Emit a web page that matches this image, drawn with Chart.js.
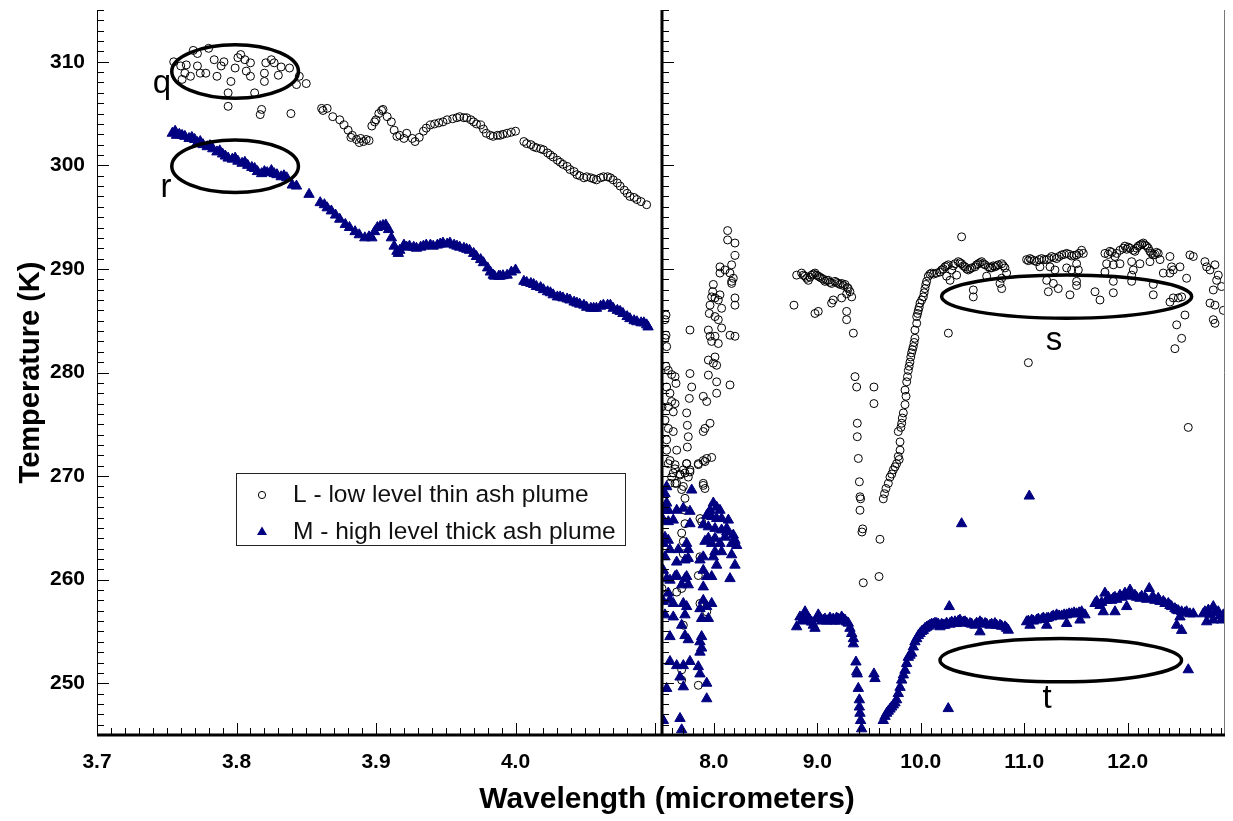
<!DOCTYPE html>
<html>
<head>
<meta charset="utf-8">
<script src="https://cdn.jsdelivr.net/npm/chart.js@4.4.1/dist/chart.umd.min.js"></script>
<style>
  html, body { margin: 0; padding: 0; background: #fff; }
</style>
</head>
<body>
<canvas id="ashChart" width="1233" height="821"></canvas>
<script>
// wavelength tick labels for the two halves of the broken axis
const leftTicks = [3.7, 3.8, 3.9, 4.0];
const rightTicks = [8.0, 9.0, 10.0, 11.0, 12.0];
const tempTicks = [250, 260, 270, 280, 290, 300, 310];
const seriesNames = ['L - low level thin ash plume', 'M - high level thick ash plume'];

// L - low level thin ash plume, 3.7-4.1 um  [wavelength, K]
const thinLeft = [
  [3.755,310.0],[3.760,309.6],[3.764,309.7],[3.763,308.9],[3.767,308.6],[3.761,308.3],[3.769,311.1],[3.772,310.8],
  [3.772,309.6],[3.774,308.9],[3.778,308.9],[3.780,311.3],[3.784,310.2],[3.786,308.6],[3.789,309.6],[3.791,310.0],
  [3.794,307.0],[3.794,305.7],[3.796,308.1],[3.799,309.4],[3.801,310.4],[3.803,310.7],[3.806,310.2],[3.807,309.1],
  [3.810,309.9],[3.810,308.6],[3.813,307.0],[3.817,304.9],[3.818,305.4],[3.820,308.9],[3.820,308.1],[3.821,309.9],
  [3.825,310.2],[3.827,309.9],[3.830,308.7],[3.832,309.5],[3.838,309.4],[3.839,305.0],[3.843,307.8],[3.845,308.6],
  [3.850,307.9],[3.861,305.5],[3.862,305.3],[3.865,305.5],[3.869,304.7],[3.874,304.4],[3.877,303.9],[3.880,303.4],
  [3.882,302.7],[3.883,302.9],[3.886,302.5],[3.888,302.2],[3.889,302.6],[3.891,302.3],[3.893,302.5],[3.895,302.4],
  [3.897,303.8],[3.899,304.2],[3.900,304.4],[3.902,305.0],[3.904,305.3],[3.905,305.4],[3.908,304.7],[3.911,304.2],
  [3.913,303.4],[3.915,302.8],[3.917,302.9],[3.920,302.6],[3.922,303.1],[3.926,302.6],[3.928,302.3],[3.931,302.7],
  [3.934,303.3],[3.936,303.6],[3.939,303.9],[3.942,304.0],[3.945,304.1],[3.948,304.2],[3.951,304.4],[3.955,304.5],
  [3.958,304.6],[3.960,304.7],[3.963,304.6],[3.965,304.6],[3.968,304.4],[3.970,304.2],[3.972,304.0],[3.975,303.9],
  [3.977,303.5],[3.979,303.1],[3.982,302.9],[3.984,302.8],[3.987,302.9],[3.989,302.9],[3.991,303.0],[3.994,303.1],
  [3.997,303.2],[4.000,303.3],[4.006,302.3],[4.008,302.1],[4.011,302.0],[4.013,301.8],[4.015,301.7],[4.018,301.6],
  [4.020,301.5],[4.023,301.2],[4.025,301.0],[4.027,300.8],[4.030,300.5],[4.032,300.3],[4.034,300.1],[4.037,299.9],
  [4.039,299.6],[4.042,299.4],[4.044,299.1],[4.046,299.0],[4.049,298.8],[4.051,298.9],[4.054,298.8],[4.056,298.7],
  [4.058,298.6],[4.061,298.8],[4.063,298.9],[4.066,298.9],[4.068,298.8],[4.070,298.6],[4.073,298.3],[4.075,298.0],
  [4.078,297.6],[4.080,297.3],[4.082,297.0],[4.085,296.9],[4.087,296.7],[4.090,296.5],[4.094,296.2]
];

// M - high level thick ash plume, 3.7-4.1 um
const thickLeft = [
  [3.754,303.1],[3.756,303.3],[3.757,302.9],[3.759,303.0],[3.761,302.9],[3.763,302.8],[3.766,302.6],[3.768,302.7],
  [3.770,302.5],[3.772,302.2],[3.774,302.3],[3.776,302.0],[3.779,301.8],[3.781,301.9],[3.783,301.6],[3.786,301.3],
  [3.788,301.4],[3.790,301.1],[3.792,300.9],[3.794,300.7],[3.797,300.6],[3.799,300.7],[3.801,300.4],[3.804,300.2],
  [3.806,300.3],[3.808,300.0],[3.811,299.8],[3.813,299.7],[3.815,299.4],[3.818,299.2],[3.820,299.4],[3.822,299.3],
  [3.825,299.5],[3.827,299.2],[3.829,299.1],[3.832,298.9],[3.834,299.0],[3.836,298.8],[3.840,298.1],[3.843,298.0],
  [3.852,297.2],[3.860,296.4],[3.863,296.2],[3.865,295.9],[3.868,295.6],[3.871,295.2],[3.874,294.8],[3.878,294.3],
  [3.881,294.0],[3.885,293.6],[3.888,293.3],[3.892,293.0],[3.895,293.1],[3.897,293.0],[3.899,293.6],[3.901,294.0],
  [3.903,294.1],[3.905,294.2],[3.907,294.25],[3.909,293.8],[3.911,293.0],[3.913,292.2],[3.915,291.7],[3.916,291.5],
  [3.917,291.8],[3.920,292.3],[3.922,292.1],[3.924,292.2],[3.927,292.1],[3.929,292.0],[3.932,292.1],[3.934,292.2],
  [3.936,292.3],[3.939,292.3],[3.941,292.2],[3.944,292.3],[3.946,292.4],[3.948,292.5],[3.951,292.4],[3.953,292.5],
  [3.956,292.3],[3.958,292.2],[3.960,292.1],[3.963,292.0],[3.965,291.9],[3.967,291.8],[3.970,291.5],[3.972,291.2],
  [3.975,290.9],[3.977,290.6],[3.980,290.1],[3.982,289.7],[3.984,289.4],[3.985,289.3],[3.988,289.3],[3.989,289.3],
  [3.991,289.35],[3.994,289.4],[3.997,289.7],[4.000,289.9],[4.006,288.8],[4.008,288.7],[4.011,288.6],[4.013,288.5],
  [4.015,288.3],[4.018,288.2],[4.020,288.0],[4.023,287.8],[4.025,287.7],[4.027,287.5],[4.030,287.3],[4.032,287.3],
  [4.034,287.2],[4.037,287.1],[4.039,287.0],[4.042,286.8],[4.044,286.7],[4.046,286.6],[4.049,286.5],[4.051,286.3],
  [4.054,286.2],[4.056,286.2],[4.058,286.2],[4.061,286.4],[4.063,286.5],[4.066,286.5],[4.068,286.5],[4.070,286.2],
  [4.073,286.0],[4.075,285.9],[4.077,285.7],[4.080,285.4],[4.082,285.2],[4.085,285.0],[4.087,284.9],[4.090,284.8],
  [4.092,284.8],[4.094,284.6],[4.095,284.4]
];

// L - low level thin ash plume, 7.5-13 um
const thinRight = [
  [7.539,285.55],[7.529,285.1],[7.539,283.6],[7.529,283.3],[7.545,282.5],[7.539,280.6],[7.561,280.2],[7.593,279.8],
  [7.626,279.6],[7.635,278.95],[7.545,278.6],[7.577,278.0],[7.593,277.2],[7.626,277.0],[7.500,276.7],[7.561,276.7],
  [7.609,276.2],[7.529,275.4],[7.561,274.6],[7.609,274.3],[7.545,273.5],[7.545,272.5],[7.642,272.5],[7.577,271.5],
  [7.626,270.7],[7.674,270.2],[7.706,270.6],[7.754,269.9],[7.593,269.9],[7.642,269.3],[7.706,269.0],[7.899,269.1],
  [7.770,284.1],[7.770,279.9],[7.787,278.6],[7.764,277.5],[7.738,276.1],[7.745,274.9],[7.754,273.8],[7.745,272.8],
  [7.738,271.2],[7.770,270.6],[7.899,277.7],[7.932,277.2],[7.899,274.3],[7.915,274.6],[7.964,275.1],[7.899,271.5],
  [7.932,271.7],[7.980,271.8],[7.851,271.1],[7.948,284.1],[7.964,283.5],[7.980,283.0],[8.012,283.5],[8.044,282.8],
  [7.948,281.2],[7.996,280.9],[8.028,280.7],[8.012,281.5],[7.948,279.75],[8.028,279.1],[8.028,278.0],[8.157,278.8],
  [7.957,285.7],[8.012,285.4],[8.044,285.1],[8.076,284.3],[8.157,283.6],[8.205,283.5],[8.134,293.7],[8.134,292.8],
  [8.205,292.5],[8.205,291.3],[8.173,290.4],[8.060,290.2],[8.109,289.9],[8.157,289.6],[8.189,289.1],[8.173,288.8],
  [8.060,289.6],[7.996,288.5],[7.980,287.3],[8.012,287.2],[8.060,287.5],[8.044,287.0],[8.076,286.2],[7.964,286.5],
  [8.205,287.2],[8.205,286.5],[8.173,288.6],[7.990,287.8],[8.801,289.4],[8.775,286.5],
  [7.561,271.2],[7.626,271.1],[7.738,271.2],[7.851,271.2],[7.915,271.4],[7.609,270.3],[7.674,270.1],[7.722,270.3],
  [7.770,270.4],[7.577,269.3],[7.626,269.3],[7.690,268.7],[7.899,269.3],[7.915,268.8],[7.722,267.85],[7.722,266.7],
  [7.867,265.9],[7.883,265.6],[7.722,265.4],[7.690,264.5],[7.706,263.7],[7.706,262.5],[7.867,262.2],[7.851,260.4],
  [7.690,259.15],[7.500,259.15],[7.642,258.8],[7.867,257.7],[7.932,256.9],[7.706,255.6],[7.690,251.3],[7.690,250.3],
  [7.851,249.8],
  [8.849,289.6],[8.865,289.4],[8.882,289.3],[8.898,289.1],[8.914,288.9],[8.930,289.2],[8.946,289.4],[8.962,289.5],
  [8.978,289.6],[8.994,289.4],[9.010,289.3],[9.026,289.2],[9.043,289.1],[9.059,289.0],[9.075,288.8],[9.091,288.9],
  [9.107,288.9],[9.123,288.7],[9.139,288.6],[9.171,288.8],[9.187,288.7],[9.204,288.6],[9.220,288.5],[9.236,288.6],
  [9.252,288.4],[9.268,288.5],[9.290,288.2],[9.300,288.1],[9.316,287.8],[9.333,287.3],[9.284,287.6],[9.236,287.2],
  [9.155,287.0],[9.139,286.7],[9.010,285.9],[8.978,285.7],[9.284,285.9],[9.284,285.1],[9.349,283.8],
  [9.365,279.6],[9.381,278.6],[9.548,278.6],[9.548,277.0],[9.387,275.1],[9.387,273.8],[9.397,271.7],[9.407,269.45],
  [9.413,268.0],[9.419,267.8],[9.413,266.7],[9.439,264.9],[9.432,264.6],[9.606,263.9],[9.445,259.7],[9.597,260.3],
  [9.638,267.8],[9.650,268.3],[9.664,268.8],[9.687,269.3],[9.703,269.9],[9.720,270.2],[9.735,270.6],[9.752,270.9],
  [9.767,271.2],[9.783,271.9],[9.792,271.6],[9.800,272.5],[9.800,273.3],[9.783,274.3],[9.808,274.7],[9.816,275.1],
  [9.822,275.6],[9.832,276.1],[9.848,276.9],[9.858,277.7],[9.848,278.3],[9.864,279.1],[9.872,279.6],[9.880,280.2],
  [9.888,280.6],[9.896,281.0],[9.904,281.5],[9.912,281.9],[9.920,282.2],[9.928,282.5],[9.936,282.9],[9.944,283.3],
  [9.944,284.1],[9.961,284.75],[9.961,285.4],[9.970,285.7],[9.977,286.0],[9.985,286.3],[9.993,286.7],[10.009,287.0],
  [10.025,287.3],[10.033,287.7],[10.041,288.1],[10.049,288.5],[10.057,288.8],[10.073,289.3],[10.089,289.5],[10.105,289.6],
  [10.125,289.5],[10.154,289.6],[10.186,289.7],[10.267,283.8],
  [10.202,289.9],[10.218,290.0],[10.234,290.2],[10.250,290.3],[10.267,290.4],[10.299,289.9],[10.315,290.3],[10.331,290.5],
  [10.363,290.7],[10.379,290.6],[10.395,290.5],[10.412,290.3],[10.428,290.2],[10.444,290.0],[10.460,289.9],[10.476,290.0],
  [10.492,290.1],[10.524,290.2],[10.540,290.4],[10.556,290.5],[10.573,290.6],[10.589,290.7],[10.605,290.5],[10.621,290.4],
  [10.653,290.2],[10.669,290.1],[10.685,290.1],[10.701,290.3],[10.717,290.2],[10.733,290.3],[10.750,290.4],[10.782,290.5],
  [10.798,290.3],[10.814,290.1],[10.830,289.6],[10.782,289.1],[10.766,288.6],[10.782,288.1],[10.508,287.97],[10.508,287.3],
  [10.283,288.9],[10.347,289.4],[10.637,289.3],[10.250,289.3],[10.395,293.1],
  [11.023,290.9],[11.040,290.8],[11.056,291.0],[11.072,290.9],[11.096,290.8],[11.120,290.7],[11.144,290.9],[11.168,291.0],
  [11.192,290.9],[11.217,290.9],[11.241,291.0],[11.265,291.2],[11.289,291.1],[11.313,291.0],[11.337,291.2],[11.362,291.35],
  [11.386,291.4],[11.410,291.5],[11.434,291.4],[11.458,291.25],[11.482,291.3],[11.506,291.35],[11.530,291.5],[11.555,291.8],
  [11.571,291.5],[11.152,290.2],[11.249,290.2],[11.297,289.9],[11.410,290.1],[11.458,289.9],[11.506,290.5],[11.523,289.9],
  [11.217,288.9],[11.281,288.6],[11.233,287.8],[11.329,288.1],[11.442,287.5],[11.506,288.8],[11.506,288.4],[11.040,280.95],
  [11.780,291.5],[11.812,291.4],[11.828,291.7],[11.845,291.6],[11.877,291.2],[11.893,291.5],[11.925,291.8],[11.957,292.0],
  [11.973,292.2],[11.990,291.9],[12.006,292.1],[12.022,292.0],[12.054,291.8],[12.070,291.7],[12.086,292.0],[12.102,292.2],
  [12.118,292.3],[12.135,292.4],[12.151,292.5],[12.167,292.3],[12.183,292.2],[12.199,292.0],[12.215,291.7],[12.231,291.5],
  [12.247,291.35],[12.263,291.4],[12.279,291.6],[12.295,291.5],[12.312,290.9],[11.796,290.5],[11.861,290.4],[11.925,290.5],
  [12.038,290.7],[12.118,290.5],[12.215,290.7],[11.780,289.7],[11.861,288.8],[12.038,288.8],[12.054,289.9],[12.247,288.5],
  [11.684,287.8],[11.732,287.0],[11.861,287.7],[12.247,287.5],[12.038,289.4],
  [12.408,291.2],[12.440,289.9],[12.424,290.2],[12.408,289.6],[12.344,289.6],[12.505,290.2],[12.569,289.1],[12.601,291.35],
  [12.634,291.2],[12.746,290.7],[12.763,290.2],[12.795,289.9],[12.843,290.4],[12.875,289.4],[12.859,288.9],[12.907,288.3],
  [12.827,287.97],[12.795,286.7],[12.843,286.5],[12.924,286.0],[12.827,285.1],[12.843,284.75],[12.553,285.55],[12.473,284.6],
  [12.521,283.3],[12.456,282.3],[12.408,286.8],[12.489,287.2],[12.521,287.3],[12.440,287.2],[12.585,274.7]
];

// M - high level thick ash plume, 7.5-13 um
const thickRight = [
  [7.545,268.97],[7.529,268.3],[7.545,267.4],[7.529,266.7],[7.561,266.7],[7.513,265.75],[7.561,265.6],[7.609,265.75],
  [7.529,264.1],[7.561,263.8],[7.513,263.5],[7.577,262.9],[7.529,262.2],[7.513,260.9],[7.545,260.1],[7.577,259.95],
  [7.626,260.3],[7.561,258.7],[7.513,257.9],[7.577,258.05],[7.609,257.7],[7.529,256.6],[7.609,256.4],[7.577,254.5],
  [7.577,252.1],[7.545,249.5],[7.513,246.4],[7.642,261.7],
  [7.642,266.7],[7.706,266.9],[7.770,266.6],[7.770,265.4],[7.787,268.65],[7.738,263.5],[7.754,262.9],[7.658,262.9],
  [7.722,261.9],[7.754,262.05],[7.642,260.4],[7.722,260.1],[7.754,259.5],[7.690,259.5],[7.706,257.7],[7.738,257.4],
  [7.722,256.6],[7.690,255.6],[7.722,254.6],[7.754,254.2],[7.642,251.7],[7.706,251.7],[7.770,252.1],[7.674,250.6],
  [7.706,249.65],[7.674,246.6],[7.690,245.5],[7.738,260.3],
  [7.867,261.9],[7.899,262.2],[7.899,260.9],[7.932,260.3],[7.899,259.3],[7.980,260.3],[7.899,258.0],[7.932,257.4],
  [7.980,257.7],[7.867,257.2],[7.883,256.25],[7.948,256.25],[7.883,254.5],[7.867,254.0],[7.883,253.4],[7.867,253.0],
  [7.851,251.6],[7.867,250.9],[7.932,250.0],[7.932,248.5],
  [7.996,267.4],[8.028,267.0],[7.964,266.7],[8.060,266.7],[7.932,266.2],[7.980,266.1],[8.028,265.9],[8.076,265.9],
  [8.141,265.75],[7.899,265.3],[7.948,265.1],[8.012,264.95],[8.076,264.8],[8.125,264.95],[7.948,264.0],[8.012,264.0],
  [8.109,264.1],[8.189,264.3],[7.915,263.7],[7.980,263.5],[8.060,263.5],[8.173,263.5],[8.221,263.3],[8.012,262.7],
  [8.076,262.7],[8.173,262.4],[7.996,262.2],[8.028,261.4],[8.205,261.4],[8.157,260.1],[8.125,264.6],[8.205,263.8],
  [8.801,255.45],[8.833,256.4],[8.850,256.0],[8.866,256.5],[8.882,256.9],[8.898,256.3],[8.914,256.2],[8.930,256.1],
  [8.946,255.9],[8.962,255.6],[8.978,255.3],[8.994,256.2],[9.010,256.6],[9.026,256.3],[9.043,256.0],[9.059,256.1],
  [9.075,256.2],[9.091,256.0],[9.107,256.1],[9.123,256.3],[9.139,256.0],[9.155,256.2],[9.171,256.0],[9.187,256.3],
  [9.204,256.2],[9.220,256.0],[9.236,256.4],[9.252,256.2],[9.268,256.1],[9.284,255.9],[9.300,255.8],[9.316,255.3],
  [9.333,254.8],[9.349,254.3],[9.349,253.8],
  [9.374,252.05],[9.381,251.1],[9.387,250.9],[9.397,249.5],[9.407,248.4],[9.407,247.7],[9.413,247.1],[9.419,246.4],
  [9.429,245.6],[9.548,250.9],[9.558,250.45],
  [9.638,246.4],[9.655,246.8],[9.671,247.1],[9.687,247.3],[9.703,247.5],[9.719,247.7],[9.735,247.9],[9.751,248.1],
  [9.767,248.4],[9.783,249.0],[9.800,249.6],[9.816,250.3],[9.832,250.8],[9.848,251.25],[9.864,251.9],[9.880,252.5],
  [9.896,252.7],[9.912,252.9],[9.928,253.5],[9.944,254.0],[9.961,254.3],[9.977,254.6],[9.993,254.8],[10.009,255.0],
  [10.025,255.1],[10.041,255.3],[10.057,255.4],[10.073,255.5],[10.089,255.6],[10.105,255.7],[10.122,255.7],[10.138,255.8],
  [10.154,255.76],[10.170,255.7],[10.218,255.6],[10.283,255.7],[10.347,255.76],[10.276,257.4],[10.266,247.55],
  [10.186,255.45],[10.202,255.7],[10.234,255.6],[10.250,255.8],[10.283,255.77],[10.299,255.9],[10.331,255.93],[10.363,256.0],
  [10.379,256.1],[10.412,255.9],[10.428,255.93],[10.444,255.8],[10.476,255.77],[10.492,255.7],[10.524,255.6],[10.540,255.8],
  [10.572,255.93],[10.589,255.8],[10.621,255.77],[10.637,255.7],[10.669,255.6],[10.685,255.7],[10.717,255.77],[10.733,255.6],
  [10.766,255.6],[10.782,255.5],[10.814,255.45],[10.830,255.3],[10.846,255.12],[10.572,254.96],[10.395,265.4],
  [11.023,255.93],[11.040,256.0],[11.072,256.1],[11.088,256.0],[11.120,256.1],[11.136,256.2],[11.168,256.15],[11.185,256.3],
  [11.217,256.25],[11.233,256.3],[11.265,256.4],[11.281,256.5],[11.313,256.6],[11.337,256.5],[11.362,256.5],[11.386,256.6],
  [11.410,256.6],[11.434,256.7],[11.458,256.7],[11.482,256.8],[11.506,256.7],[11.530,256.8],[11.555,256.9],[11.587,256.6],
  [11.056,255.6],[11.217,255.6],[11.410,255.77],[11.539,256.1],[11.049,268.07],
  [11.684,257.7],[11.700,257.9],[11.732,257.5],[11.748,257.8],[11.780,258.7],[11.796,258.0],[11.813,258.3],[11.845,258.0],
  [11.861,258.2],[11.877,258.3],[11.893,258.1],[11.925,258.5],[11.941,258.3],[11.973,258.7],[11.990,258.4],[12.006,258.6],
  [12.022,259.0],[12.038,258.6],[12.070,258.5],[12.086,258.3],[12.118,258.2],[12.135,258.4],[12.167,258.3],[12.183,258.1],
  [12.208,259.15],[12.231,258.2],[12.247,258.3],[12.263,258.0],[12.295,258.2],[12.312,257.9],[12.344,257.9],[12.360,257.7],
  [12.392,257.7],[12.408,257.5],[12.424,257.4],[12.456,257.2],[12.473,257.06],[12.489,257.0],[12.521,256.9],[12.553,256.8],
  [12.569,256.9],[12.601,256.7],[12.634,256.7],[12.505,256.4],[12.473,255.6],[12.521,255.1],[11.764,256.9],[11.877,256.9],
  [11.990,257.4],
  [12.730,256.7],[12.746,256.9],[12.779,257.06],[12.795,256.6],[12.827,257.4],[12.843,256.8],[12.875,256.9],[12.891,256.5],
  [12.924,256.6],[12.763,255.93],[12.827,256.1],[12.907,256.1],[12.935,256.4],[12.585,251.3]
];

// ellipse annotations q, r, s, t in data units (centre, half widths) and letter baselines
const notes = [
  { axis: 'xL', x: 3.799, y: 309.06, rx: 0.0454, ry: 2.58, label: 'q', lx: 3.7466, ly: 307.0 },
  { axis: 'xL', x: 3.799, y: 299.92, rx: 0.0454, ry: 2.54, label: 'r', lx: 3.7495, ly: 296.96 },
  { axis: 'xR', x: 11.410, y: 287.33, rx: 1.208, ry: 2.09, label: 's', lx: 11.287, ly: 282.17 },
  { axis: 'xR', x: 11.353, y: 252.22, rx: 1.167, ry: 2.09, label: 't', lx: 11.22, ly: 247.58 }
];

const FONT = '"Liberation Sans", Arial, sans-serif';
const toXY = arr => arr.map(p => ({ x: p[0], y: p[1] }));

const circleStyle = { pointStyle: 'circle', pointRadius: 4, pointBorderWidth: 1,
  pointBorderColor: '#000', pointBackgroundColor: 'rgba(0,0,0,0)' };
const triangleStyle = { pointStyle: 'triangle', pointRadius: 6, pointBorderWidth: 1,
  pointBorderColor: '#000080', pointBackgroundColor: '#000080' };

function line(ctx, x1, y1, x2, y2) {
  ctx.beginPath(); ctx.moveTo(x1, y1); ctx.lineTo(x2, y2); ctx.stroke();
}

// drop the automatic label padding so the plot area fills the frame
function noPad(s) {
  s.paddingTop = 0; s.paddingBottom = 0; s.paddingLeft = 0; s.paddingRight = 0;
}

const decorations = {
  id: 'decorations',
  afterDatasetsDraw(chart) {
    const { ctx, scales } = chart;
    const y = scales.y;
    ctx.save();
    notes.forEach(n => {
      const sx = scales[n.axis];
      const cx = sx.getPixelForValue(n.x), cy = y.getPixelForValue(n.y);
      const rx = Math.abs(sx.getPixelForValue(n.x + n.rx) - cx);
      const ry = Math.abs(y.getPixelForValue(n.y + n.ry) - cy);
      ctx.beginPath();
      ctx.ellipse(cx, cy, rx, ry, 0, 0, Math.PI * 2);
      ctx.lineWidth = 3.5;
      ctx.strokeStyle = '#000';
      ctx.stroke();
      ctx.font = '33px ' + FONT;
      ctx.fillStyle = '#000';
      ctx.textAlign = 'center';
      ctx.textBaseline = 'alphabetic';
      ctx.fillText(n.label, sx.getPixelForValue(n.lx), y.getPixelForValue(n.ly));
    });
    ctx.restore();
  },
  afterDraw(chart) {
    const { ctx, chartArea: a, scales } = chart;
    const { xL, xR, y } = scales;
    const brk = xL.right;
    ctx.save();
    ctx.strokeStyle = '#000';
    ctx.lineWidth = 1;
    // inward ticks on the temperature axis and on the break line
    for (let v = Math.ceil(y.min); v <= y.max; v++) {
      const py = Math.round(y.getPixelForValue(v)) + 0.5;
      const len = v % 10 === 0 ? 12 : 7;
      line(ctx, a.left, py, a.left + len, py);
      line(ctx, brk, py, brk + len, py);
    }
    // inward ticks on the wavelength axis
    for (let i = 370; i <= 410; i++) {
      const px = Math.round(xL.getPixelForValue(i / 100)) + 0.5;
      line(ctx, px, a.bottom, px, a.bottom - (i % 10 === 0 ? 12 : 7));
    }
    for (let i = 75; i <= 129; i++) {
      const px = Math.round(xR.getPixelForValue(i / 10)) + 0.5;
      line(ctx, px, a.bottom, px, a.bottom - (i % 10 === 0 ? 12 : 7));
    }
    // frame
    line(ctx, a.left + 0.5, a.top, a.left + 0.5, a.bottom);
    ctx.strokeStyle = '#777';
    line(ctx, a.right - 0.5, a.top, a.right - 0.5, a.bottom);
    ctx.strokeStyle = '#000';
    ctx.lineWidth = 3;
    line(ctx, a.left, a.bottom, a.right, a.bottom);
    line(ctx, brk, a.top, brk, a.bottom);

    // shared x axis title
    ctx.fillStyle = '#000';
    ctx.font = 'bold 30px ' + FONT;
    ctx.textAlign = 'center';
    ctx.textBaseline = 'middle';
    ctx.fillText('Wavelength (micrometers)', (a.left + a.right) / 2 + 6, 800);

    // legend box
    ctx.lineWidth = 1;
    ctx.strokeStyle = '#222';
    ctx.strokeRect(236.5, 473.5, 389, 72);
    ctx.beginPath();
    ctx.arc(262, 495, 3.6, 0, Math.PI * 2);
    ctx.strokeStyle = '#000';
    ctx.stroke();
    ctx.beginPath();
    ctx.moveTo(262, 526.5); ctx.lineTo(267, 535); ctx.lineTo(257, 535); ctx.closePath();
    ctx.fillStyle = '#000080';
    ctx.fill();
    ctx.fillStyle = '#111';
    ctx.font = '24.5px ' + FONT;
    ctx.textAlign = 'left';
    ctx.fillText(seriesNames[0], 293, 495);
    ctx.fillText(seriesNames[1], 293, 532);
    ctx.restore();
  }
};

new Chart(document.getElementById('ashChart').getContext('2d'), {
  type: 'scatter',
  data: {
    datasets: [
      { label: seriesNames[1], data: toXY(thickLeft), xAxisID: 'xL', ...triangleStyle },
      { label: seriesNames[1], data: toXY(thickRight), xAxisID: 'xR', ...triangleStyle },
      { label: seriesNames[0], data: toXY(thinLeft), xAxisID: 'xL', ...circleStyle },
      { label: seriesNames[0], data: toXY(thinRight), xAxisID: 'xR', ...circleStyle }
    ]
  },
  options: {
    responsive: false,
    animation: false,
    layout: { padding: { top: 10, right: 8, left: 0, bottom: 0 } },
    plugins: { legend: { display: false }, tooltip: { enabled: false } },
    scales: {
      xL: {
        type: 'linear', position: 'bottom', stack: 'wl', stackWeight: 565,
        min: 3.7, max: 4.105, bounds: 'data',
        grid: { display: false, drawTicks: false }, border: { display: false },
        afterBuildTicks: s => { s.ticks = leftTicks.map(v => ({ value: v })); },
        afterFit: s => { s.height = 86; noPad(s); },
        ticks: { autoSkip: false, maxRotation: 0, padding: 15, color: '#000',
          font: { family: FONT, size: 21, weight: 'bold' }, callback: v => v.toFixed(1) }
      },
      xR: {
        type: 'linear', position: 'bottom', stack: 'wl', stackWeight: 563,
        min: 7.5, max: 12.94, bounds: 'data',
        grid: { display: false, drawTicks: false }, border: { display: false },
        afterBuildTicks: s => { s.ticks = rightTicks.map(v => ({ value: v })); },
        afterFit: s => { s.height = 86; noPad(s); },
        ticks: { autoSkip: false, maxRotation: 0, padding: 15, color: '#000',
          font: { family: FONT, size: 21, weight: 'bold' }, callback: v => v.toFixed(1) }
      },
      y: {
        type: 'linear', position: 'left', min: 245, max: 315,
        grid: { display: false, drawTicks: false }, border: { display: false },
        afterBuildTicks: s => { s.ticks = tempTicks.map(v => ({ value: v })); },
        afterFit: s => { s.width = 97; noPad(s); },
        ticks: { padding: 12, color: '#000', font: { family: FONT, size: 21, weight: 'bold' } },
        title: { display: true, text: 'Temperature (K)', color: '#000',
          font: { family: FONT, size: 29, weight: 'bold' }, padding: { top: 14, bottom: 0 } }
      }
    }
  },
  plugins: [decorations]
});
</script>
</body>
</html>
